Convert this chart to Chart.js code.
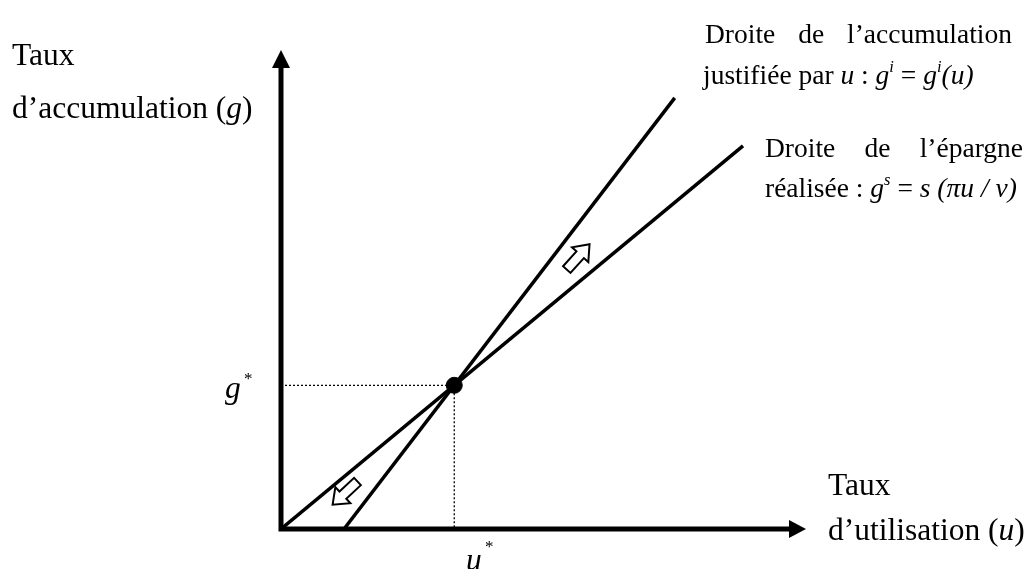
<!DOCTYPE html>
<html>
<head>
<meta charset="utf-8">
<script src="https://cdn.jsdelivr.net/npm/chart.js@4"></script>
<style>
  body { margin: 0; background: #fff; }
  #wrap { width: 1029px; height: 569px; position: relative; }
</style>
</head>
<body>
<div id="wrap"><canvas id="chart"></canvas></div>
<script>
// equilibrium
const uStar = 33;
const gStar = 30;
// savings line g^s = s(pi u / v)
const sU = [0, 88];
const sG = [0, 80];
// investment line g^i(u)
const iU = [12, 75];
const iG = [0, 90];
// hollow shift arrows: centre (u, g) and direction in degrees
const arrowU = [56.6, 12.2];
const arrowG = [56.8, 7.5];
const arrowDir = [-48, 137];

const pts = (xs, ys) => xs.map((x, k) => ({ x: x, y: ys[k] }));
const serif = '"Liberation Serif", "Times New Roman", serif';

function rich(ctx, x, y, parts, size) {
  parts.forEach(p => {
    const sz = p.sup ? size * 0.6 : size;
    ctx.font = (p.i ? "italic " : "") + sz + "px " + serif;
    ctx.fillText(p.t, x, y - (p.sup ? size * 0.45 : 0));
    x += ctx.measureText(p.t).width;
  });
}

function justified(ctx, words, x0, x1, y, size) {
  ctx.font = size + "px " + serif;
  const w = words.map(t => ctx.measureText(t).width);
  const gap = (x1 - x0 - w.reduce((a, b) => a + b, 0)) / (words.length - 1);
  let x = x0;
  words.forEach((t, k) => { ctx.fillText(t, x, y); x += w[k] + gap; });
}

const decor = {
  id: "decor",
  beforeDatasetsDraw(chart) {
    const { ctx, scales: { x, y } } = chart;
    const x0 = x.getPixelForValue(0), y0 = y.getPixelForValue(0);
    const xEnd = x.getPixelForValue(100), yEnd = y.getPixelForValue(100);
    ctx.save();
    ctx.strokeStyle = "#000";
    ctx.fillStyle = "#000";
    ctx.lineWidth = 5;
    ctx.beginPath();
    ctx.moveTo(x0, y0);
    ctx.lineTo(x0, yEnd + 14);
    ctx.moveTo(x0 - 2.5, y0);
    ctx.lineTo(xEnd - 14, y0);
    ctx.stroke();
    ctx.beginPath();
    ctx.moveTo(x0, yEnd);
    ctx.lineTo(x0 - 9, yEnd + 18);
    ctx.lineTo(x0 + 9, yEnd + 18);
    ctx.closePath();
    ctx.fill();
    ctx.beginPath();
    ctx.moveTo(xEnd, y0);
    ctx.lineTo(xEnd - 17, y0 - 9);
    ctx.lineTo(xEnd - 17, y0 + 9);
    ctx.closePath();
    ctx.fill();
    ctx.restore();
  },
  afterDatasetsDraw(chart) {
    const { ctx, scales: { x, y } } = chart;
    ctx.save();
    // hollow arrows
    arrowU.forEach((u, k) => {
      const cx = x.getPixelForValue(u), cy = y.getPixelForValue(arrowG[k]);
      ctx.translate(cx, cy);
      ctx.rotate(arrowDir[k] * Math.PI / 180);
      ctx.beginPath();
      ctx.moveTo(-17, -5);
      ctx.lineTo(3, -5);
      ctx.lineTo(3, -11);
      ctx.lineTo(17, 0);
      ctx.lineTo(3, 11);
      ctx.lineTo(3, 5);
      ctx.lineTo(-17, 5);
      ctx.closePath();
      ctx.fillStyle = "#fff";
      ctx.fill();
      ctx.lineWidth = 2;
      ctx.strokeStyle = "#000";
      ctx.stroke();
      ctx.setTransform(1, 0, 0, 1, 0, 0);
    });
    ctx.fillStyle = "#000";
    ctx.textBaseline = "alphabetic";
    const big = 31.5;
    ctx.font = big + "px " + serif;
    ctx.fillText("Taux", 12, 65);
    rich(ctx, 12, 118, [{ t: "d\u2019accumulation (" }, { t: "g", i: true }, { t: ")" }], big);
    ctx.font = big + "px " + serif;
    ctx.fillText("Taux", 828, 495);
    rich(ctx, 828, 540, [{ t: "d\u2019utilisation (" }, { t: "u", i: true }, { t: ")" }], big);
    // equilibrium labels
    rich(ctx, 225, 398, [{ t: "g", i: true }], big);
    ctx.font = "17px " + serif;
    ctx.fillText("*", 244, 384);
    rich(ctx, 466, 570, [{ t: "u", i: true }], big);
    ctx.font = "17px " + serif;
    ctx.fillText("*", 485, 552);
    // line labels
    const sm = 27.5;
    justified(ctx, ["Droite", "de", "l\u2019accumulation"], 705, 1012, 43, sm);
    rich(ctx, 703, 84, [
      { t: "justifi\u00e9e par " }, { t: "u", i: true }, { t: " : " },
      { t: "g", i: true }, { t: "i", i: true, sup: true }, { t: " = " },
      { t: "g", i: true }, { t: "i", i: true, sup: true }, { t: "(u)", i: true }
    ], sm);
    justified(ctx, ["Droite", "de", "l\u2019\u00e9pargne"], 765, 1023, 157, sm);
    rich(ctx, 765, 197, [
      { t: "r\u00e9alis\u00e9e : " }, { t: "g", i: true }, { t: "s", i: true, sup: true },
      { t: " = " }, { t: "s (\u03c0u / v)", i: true }
    ], sm);
    ctx.restore();
  }
};

new Chart(document.getElementById("chart"), {
  type: "scatter",
  data: {
    datasets: [
      {
        data: pts([0, uStar], [gStar, gStar]),
        showLine: true, borderColor: "#000", borderWidth: 1.3, borderDash: [2, 2],
        pointRadius: 0
      },
      {
        data: pts([uStar, uStar], [gStar, 0]),
        showLine: true, borderColor: "#000", borderWidth: 1.3, borderDash: [2, 2],
        pointRadius: 0
      },
      {
        data: pts(sU, sG),
        showLine: true, borderColor: "#000", borderWidth: 3.5, pointRadius: 0
      },
      {
        data: pts(iU, iG),
        showLine: true, borderColor: "#000", borderWidth: 3.5, pointRadius: 0
      },
      {
        data: [{ x: uStar, y: gStar }],
        pointRadius: 8, backgroundColor: "#000", borderColor: "#000"
      }
    ]
  },
  options: {
    responsive: true,
    maintainAspectRatio: false,
    animation: false,
    layout: { padding: { left: 281, right: 223, top: 50, bottom: 40 } },
    scales: {
      x: { type: "linear", min: 0, max: 100, display: false },
      y: { type: "linear", min: 0, max: 100, display: false }
    },
    plugins: { legend: { display: false }, tooltip: { enabled: false } }
  },
  plugins: [decor]
});
</script>
</body>
</html>
